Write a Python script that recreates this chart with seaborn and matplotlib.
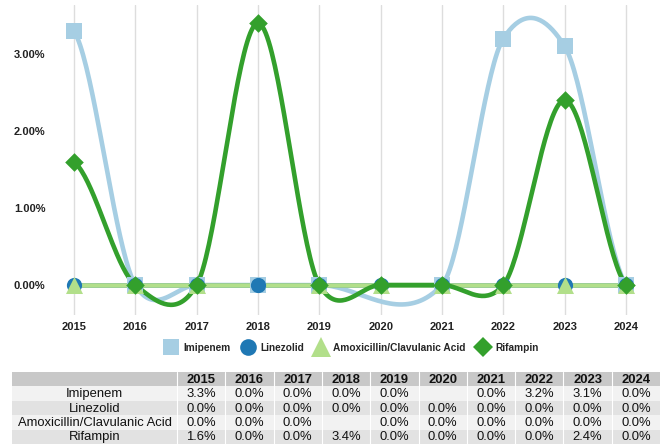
import numpy as np
import pandas as pd
import matplotlib
matplotlib.use("Agg")
import matplotlib.pyplot as plt
import seaborn as sns
from matplotlib.lines import Line2D

years = [2015, 2016, 2017, 2018, 2019, 2020, 2021, 2022, 2023, 2024]
series_names = ["Imipenem", "Linezolid", "Amoxicillin/Clavulanic Acid", "Rifampin"]
imipenem = [3.3, 0.0, 0.0, 0.0, 0.0, np.nan, 0.0, 3.2, 3.1, 0.0]
linezolid = [0.0, 0.0, 0.0, 0.0, 0.0, 0.0, 0.0, 0.0, 0.0, 0.0]
amoxicillin = [0.0, 0.0, 0.0, np.nan, 0.0, 0.0, 0.0, 0.0, 0.0, 0.0]
rifampin = [1.6, 0.0, 0.0, 3.4, 0.0, 0.0, 0.0, 0.0, 2.4, 0.0]
y_ticks = [0, 1, 2, 3]

values = [imipenem, linezolid, amoxicillin, rifampin]
colors = ["#a6cee3", "#1f78b4", "#b2df8a", "#33a02c"]
markers = ["s", "o", "^", "D"]
msizes = [130, 120, 150, 90]

sns.set_theme(style="white")
plt.rcParams["font.family"] = ["Liberation Sans", "DejaVu Sans"]


def cardinal_spline(xs, ys, tension=0.8, n=40):
    """Cardinal spline through the points, in data space."""
    xs = np.asarray(xs, float)
    ys = np.asarray(ys, float)
    k = len(xs)
    m = np.zeros(k)
    for i in range(k):
        lo = max(i - 1, 0)
        hi = min(i + 1, k - 1)
        slope = (ys[hi] - ys[lo]) / (xs[hi] - xs[lo])
        if lo == i or hi == i:
            slope /= 2.0  # duplicated end point
        m[i] = tension * slope
    px, py = [], []
    for i in range(k - 1):
        h = xs[i + 1] - xs[i]
        t = np.linspace(0, 1, n, endpoint=(i == k - 2))
        h00 = 2 * t**3 - 3 * t**2 + 1
        h10 = t**3 - 2 * t**2 + t
        h01 = -2 * t**3 + 3 * t**2
        h11 = t**3 - t**2
        px.append(xs[i] + t * h)
        py.append(h00 * ys[i] + h10 * h * m[i] + h01 * ys[i + 1] + h11 * h * m[i + 1])
    return np.concatenate(px), np.concatenate(py)


fig = plt.figure(figsize=(6.62, 4.45), dpi=100)
W, H = 662, 445
ax = fig.add_axes([55 / W, 1 - 315 / H, 590 / W, 310 / H])

# smooth lines
for name, vals, c in zip(series_names, values, colors):
    v = np.asarray(vals, float)
    ok = ~np.isnan(v)
    sx, sy = cardinal_spline(np.asarray(years)[ok], v[ok])
    sns.lineplot(x=sx, y=sy, ax=ax, color=c, lw=3.3, sort=False,
                 estimator=None, zorder=2, legend=False)

# markers
for name, vals, c, mk, ms in zip(series_names, values, colors, markers, msizes):
    df = pd.DataFrame({"year": years, "value": vals}).dropna()
    sns.scatterplot(data=df, x="year", y="value", ax=ax, color=c, marker=mk,
                    s=ms, linewidth=0, zorder=3, legend=False)

ax.set_xlim(2015 - 19 / 61.33, 2024 + 19 / 61.33)
ax.set_ylim(-30 / 77, 280 / 77)
ax.set_xticks(years)
ax.set_xticklabels([str(y) for y in years], fontsize=8, fontweight="bold")
ax.set_yticks(y_ticks)
ax.set_yticklabels([f"{t:.2f}%" for t in y_ticks], fontsize=8, fontweight="bold")
ax.tick_params(axis="x", length=0, pad=5, colors="#222222")
ax.tick_params(axis="y", length=0, pad=7, colors="#222222")
ax.grid(axis="x", color="#dddddd", lw=1)
ax.grid(axis="y", visible=False)
ax.set_axisbelow(True)
for sp in ax.spines.values():
    sp.set_visible(False)
ax.set_xlabel("")
ax.set_ylabel("")

# legend
handles = [Line2D([], [], ls="none", marker=mk, color=c, markersize=s, markeredgewidth=0)
           for mk, c, s in zip(markers, colors, [12, 12, 14, 10])]
fig.legend(handles, series_names, loc="center", ncol=4, frameon=False,
           bbox_to_anchor=(350 / W, 1 - 348 / H), handletextpad=0.2,
           columnspacing=0.7, prop={"size": 7.3, "weight": "bold"})

# data table
tax = fig.add_axes([12 / W, 1 - 444 / H, 648 / W, 72 / H])
tax.set_xlim(0, 648)
tax.set_ylim(72, 0)
tax.axis("off")
first_w = 165
col_w = (648 - first_w) / len(years)
row_h = 14.4
row_colors = ["#c8c8c8", "#f2f2f2", "#e2e2e2", "#f2f2f2", "#e2e2e2"]
for r in range(5):
    tax.add_patch(plt.Rectangle((0, r * row_h), 648, row_h, color=row_colors[r], lw=0))
for j in range(len(years)):
    x0 = first_w + j * col_w
    tax.plot([x0, x0], [0, 72], color="white", lw=0.8)
    tax.text(x0 + col_w / 2, row_h / 2 + 0.5, str(years[j]), ha="center", va="center",
             fontsize=9.4, fontweight="bold", color="#111111")
for i, (name, vals) in enumerate(zip(series_names, values)):
    yc = (i + 1) * row_h + row_h / 2 + 0.5
    tax.text(first_w / 2, yc, name, ha="center", va="center", fontsize=9.4, color="#111111")
    for j, v in enumerate(vals):
        if not np.isnan(v):
            tax.text(first_w + j * col_w + col_w / 2, yc, f"{v:.1f}%", ha="center",
                     va="center", fontsize=9.4, color="#111111")

fig.savefig("out.png", dpi=100)
